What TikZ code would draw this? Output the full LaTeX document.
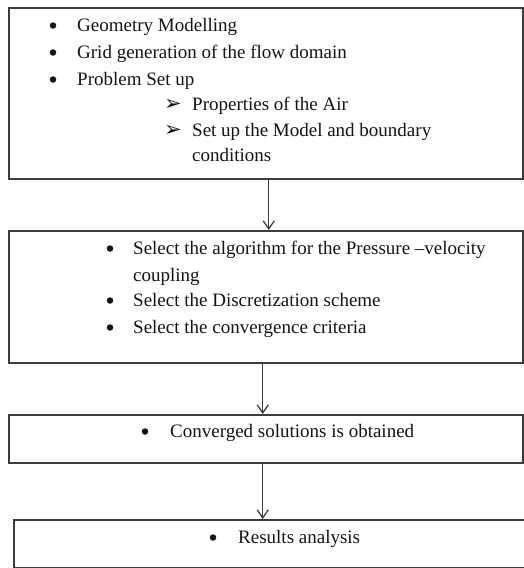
\documentclass[tikz,border=0pt]{standalone}
\usepackage{fontspec}
\setmainfont{Liberation Serif}
\newfontfamily\dingfont{DejaVu Sans}
\usepackage{xcolor}
\usepackage{tikz}
\usetikzlibrary{arrows.meta,positioning}
\definecolor{boxline}{HTML}{3C3C3C}
\definecolor{inktext}{HTML}{141414}

\begin{document}
\begin{tikzpicture}[
        x=1pt, y=-1pt,
        every node/.style={font=\fontsize{19}{26}\selectfont, inner sep=0pt, text=inktext},
        stagebox/.style={draw=boxline, line width=1.5pt, rectangle, anchor=north west},
        flow/.style={draw=boxline, line width=1.3pt, -{Straight Barb[length=8pt,width=11pt]}},
        itemtxt/.style={anchor=base west},
        dotmark/.style={circle, fill=inktext, minimum size=6.5pt, yshift=5.5pt},
        subarrow/.style={anchor=base west, font=\dingfont\fontsize{21}{26}\selectfont}
    ]
    \useasboundingbox (0,0) rectangle (524,568);

    % ================= boxes =========================
    \node[stagebox, minimum width=514pt, minimum height=171pt] (setup) at (8,7) {};
    \node[stagebox, minimum width=514pt, minimum height=132pt] (solver) at (8,230) {};
    \node[stagebox, minimum width=514pt, minimum height=48pt] (conv) at (8,414) {};
    \node[stagebox, minimum width=530pt, minimum height=48pt] (result) at (13,519) {};

    % ================= box 1: pre-processing =========================
    \foreach \y/\t [count=\i] in {31/Geometry Modelling,
            58/Grid generation of the flow domain,
            85/Problem Set up}
    {
        \node[dotmark] (pd\i) at (53,\y) {};
        \node[itemtxt] (pt\i) at (77,\y) {\t};
    }
    \node[subarrow] (sa1) at (164,110) {➢};
    \node[itemtxt] (st1) at (192,110) {Properties of the Air};
    \node[subarrow] (sa2) at (164,136) {➢};
    \node[itemtxt] (st2) at (192,136) {Set up the Model and boundary};
    \node[itemtxt] (st3) at (192,161) {conditions};

    % ================= box 2: solver settings =========================
    \node[dotmark] (sd1) at (110,254) {};
    \node[itemtxt] (sl1) at (133,254) {Select the algorithm for the Pressure --velocity};
    \node[itemtxt] (sl2) at (133,281) {coupling};
    \node[dotmark] (sd2) at (110,306) {};
    \node[itemtxt] (sl3) at (133,306) {Select the Discretization scheme};
    \node[dotmark] (sd3) at (110,333) {};
    \node[itemtxt] (sl4) at (133,333) {Select the convergence criteria};

    % ================= box 3 and 4 =========================
    \node[dotmark] (cd) at (145,437) {};
    \node[itemtxt] (ct) at (170,437) {Converged solutions is obtained};
    \node[dotmark] (rd) at (213,543) {};
    \node[itemtxt] (rt) at (238,543) {Results analysis};

    % ================= connectors =========================
    \draw[flow] ([xshift=3pt]setup.south) -- ([xshift=3pt]setup.south |- solver.north);
    \draw[flow] ([xshift=-3pt]solver.south) -- ([xshift=-3pt]solver.south |- conv.north);
    \draw[flow] ([xshift=-3pt]conv.south) -- ([xshift=-3pt]conv.south |- result.north);
\end{tikzpicture}
\end{document}
